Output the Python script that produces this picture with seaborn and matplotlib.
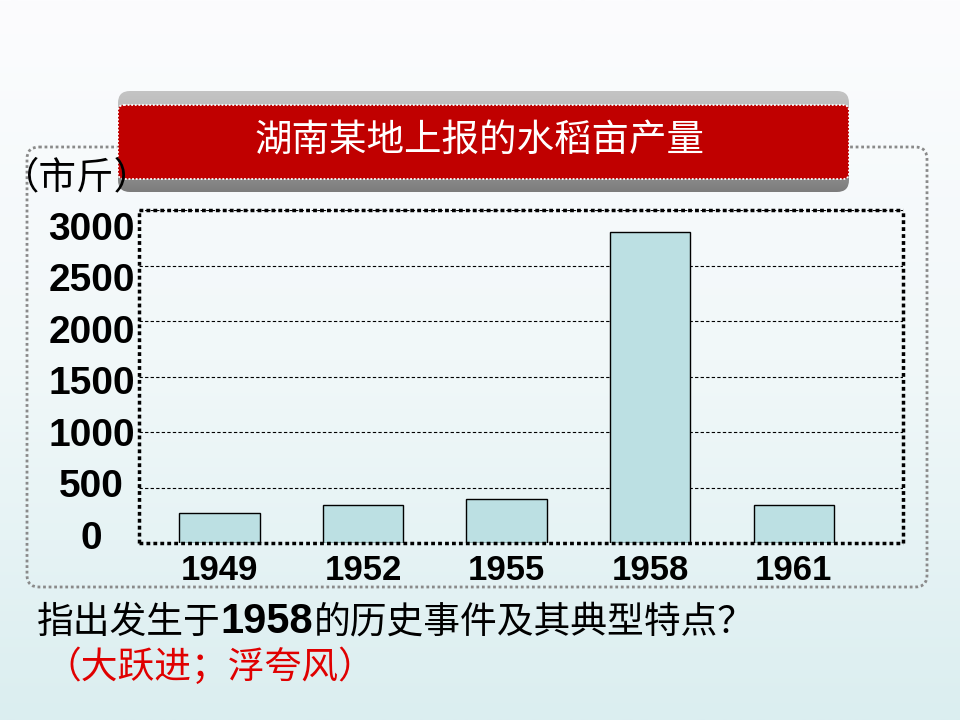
import numpy as np
import matplotlib.pyplot as plt
import seaborn as sns
from matplotlib.patches import FancyBboxPatch
from matplotlib.colors import LinearSegmentedColormap

years = ["1949", "1952", "1955", "1958", "1961"]
yields = [270, 340, 400, 2800, 340]
yticks = [0, 500, 1000, 1500, 2000, 2500, 3000]
title = "湖南某地上报的水稻亩产量"
unit = "（市斤）"
question = ["指出发生于", "1958", "的历史事件及其典型特点？"]
answer = "（大跃进；浮夸风）"

sns.set_style("white")
plt.rcParams["font.family"] = ["Noto Sans CJK SC", "DejaVu Sans"]
plt.rcParams["text.color"] = "black"
plt.rcParams["xtick.labelcolor"] = "black"
plt.rcParams["ytick.labelcolor"] = "black"

fig = plt.figure(figsize=(9.6, 7.2), dpi=100)

# background layer in pixel coordinates
bg = fig.add_axes([0, 0, 1, 1], zorder=0)
grad = np.linspace(0, 1, 256).reshape(-1, 1)
bg_cmap = LinearSegmentedColormap.from_list("bg", ["#fcfcfe", "#f1f8f9", "#dbeef0"])
bg.imshow(grad, extent=[0, 960, 720, 0], cmap=bg_cmap, aspect="auto")
bg.axis("off")

# outer dotted frame
frame = FancyBboxPatch((27, 147), 900, 440, boxstyle="round,pad=0,rounding_size=12",
                       fill=False, ec="#8a8a8a", lw=2)
frame.set_linestyle((0, (1, 1)))
bg.add_patch(frame)

# title box with gray shadow
shadow = FancyBboxPatch((118, 91), 731, 101, boxstyle="round,pad=0,rounding_size=12",
                        fc="none", ec="none")
bg.add_patch(shadow)
gray_cmap = LinearSegmentedColormap.from_list("gr", ["#c4c4c4", "#b0b0b0", "#7c7c7c"])
sh_img = bg.imshow(grad, extent=[118, 849, 192, 91], cmap=gray_cmap, aspect="auto")
sh_img.set_clip_path(shadow)
red_box = FancyBboxPatch((118, 105), 731, 74, boxstyle="round,pad=0,rounding_size=6",
                         fc="#c00000", ec="white", lw=1.3)
red_box.set_linestyle((0, (1, 1)))
bg.add_patch(red_box)
bg.set_xlim(0, 960)
bg.set_ylim(720, 0)
bg.text(480, 141, title, color="white", fontsize=27, ha="center", va="center")

bg.text(2, 178, unit, fontsize=27, ha="left", va="center", color="black")

# chart
pos = [139 / 960, 1 - 543 / 720, (903 - 139) / 960, (543 - 210) / 720]
ax = fig.add_axes(pos, zorder=2)
ax.patch.set_alpha(0)
sns.barplot(x=years, y=yields, color="#bce0e3", saturation=1, edgecolor="black",
            linewidth=1, width=0.56, ax=ax)
ax.set_ylim(0, 3000)
ax.set_xlim(-0.56, 4.76)
ax.set_yticks(yticks)
ax.set_yticklabels([])
ax.yaxis.grid(True, ls=(0, (3, 2)), lw=0.8, color="black")
ax.set_axisbelow(True)
ax.tick_params(axis="y", length=0)
ax.tick_params(axis="x", length=0, pad=8, labelsize=25)
for lab in ax.get_xticklabels():
    lab.set_fontfamily("Liberation Sans")
    lab.set_fontweight("bold")
for s in ax.spines.values():
    s.set_visible(True)
    s.set_linewidth(2.5)
    s.set_linestyle((0, (1.1, 0.9)))
    s.set_capstyle("butt")
    s.set_color("black")
ax.set_xlabel("")
ax.set_ylabel("")

# the value labels sit a little tighter than the gridlines
lab_ax = fig.add_axes(pos, zorder=1)
lab_ax.patch.set_alpha(0)
lab_ax.set_ylim(-78, 3155)
lab_ax.set_yticks(yticks)
lab_ax.set_xticks([])
lab_ax.tick_params(axis="y", length=0, pad=34, labelsize=28)
for s in lab_ax.spines.values():
    s.set_visible(False)
for lab in lab_ax.get_yticklabels():
    lab.set_ha("center")
    lab.set_fontfamily("Liberation Sans")
    lab.set_fontweight("bold")

# question text, pieced together
fig.canvas.draw()
renderer = fig.canvas.get_renderer()
x = 37
for part in question:
    if part.isdigit():
        t = bg.text(x, 622, part, fontsize=30, fontweight="bold", family="Liberation Sans",
                    ha="left", va="center", color="black")
    else:
        t = bg.text(x, 622, part, fontsize=26.5, ha="left", va="center", color="black")
    x += t.get_window_extent(renderer).width
bg.text(44, 667, answer, fontsize=26.5, ha="left", va="center", color="#e00000")

fig.savefig("out.png", dpi=100)
